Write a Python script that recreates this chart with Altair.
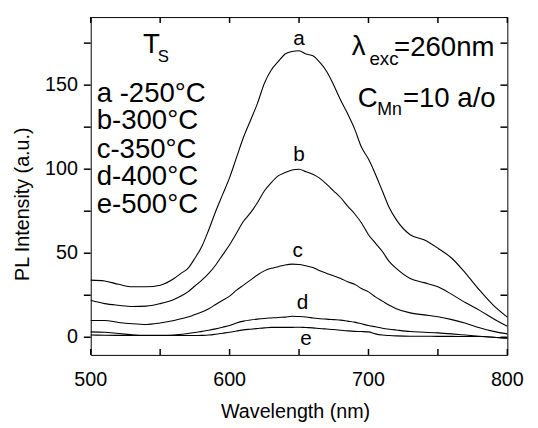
import altair as alt
import pandas as pd

FONT = "Liberation Sans"

# ---- data ----
wavelength = [500, 510, 520, 530, 540, 550, 560,
              565, 570, 575, 580, 585, 590, 595, 600, 605, 610, 615, 620, 625, 630, 635,
              640, 645, 650, 655, 660, 665, 670, 675, 680, 685, 690, 695, 700, 705, 710,
              715, 720,
              730, 740, 750, 760, 770, 780, 790, 800]

curve_a = [34, 33.5, 31.5, 30, 30, 31, 35,
           38, 41, 47, 54, 64, 75, 85, 95, 107, 119, 129, 139, 151, 159, 164,
           168.5, 170, 170.5, 168.5, 167.5, 163.5, 158, 150, 141, 133, 124, 113, 106, 97, 87,
           77, 70,
           61, 58, 53, 47, 38, 28, 19, 12]
curve_b = [22, 20, 19, 18.3, 18.5, 20, 22.5,
           24.5, 27, 30.5, 34, 38, 43, 49, 55, 62, 69, 74, 80, 87, 92, 96,
           98, 99.5, 100, 98.5, 97, 94.5, 91, 87, 83, 78, 73.5, 68, 61, 56, 51,
           45, 41,
           35, 32.5, 30, 25.5, 20.5, 16, 11, 6.5]
curve_c = [10, 10, 8.8, 8, 7.6, 8.5, 10,
           11, 12, 13.5, 15, 17, 19.5, 22, 24.5, 28, 31, 34, 37, 39.5, 41, 42,
           43, 43.5, 43.3, 42.5, 41.5, 39.5, 38, 36.5, 35, 33, 31.5, 29, 27, 24, 21.5,
           19, 17,
           14.5, 13.3, 12.2, 10.5, 8.3, 5.6, 3.5, 2]
curve_d = [3.2, 3, 2.2, 1.5, 1.2, 1.2, 1.3,
           1.8, 2.2, 2.8, 3.5, 4.2, 5, 6, 7, 8.5, 9.6, 10.3, 10.8, 11.2, 11.5, 11.8,
           12, 12.5, 12.3, 12, 11.5, 11, 10.8, 10.5, 10.2, 9.6, 9, 8, 7, 6.2, 5.4,
           4.8, 4.3,
           3.4, 3, 2.6, 2, 1.3, 0.6, 0, -0.6]
curve_e = [1.3, 1.2, 1.1, 1, 1, 1, 1,
           1, 1, 1, 1.1, 1.3, 1.8, 2.4, 3, 3.7, 4.4, 4.8, 5.2, 5.6, 5.9, 5.9,
           5.9, 5.9, 6, 5.8, 5.6, 5.2, 4.9, 4.6, 4.2, 3.8, 3.5, 3.4, 3.2, 2, 1.3,
           1, 0.8,
           0.6, 0.6, 0.5, 0.5, 0.4, 0.4, 0, -0.6]

curve_names = ["a", "b", "c", "d", "e"]
label_wl = [650, 650, 649, 652.5, 655]
label_val = [174, 105, 47.5, 17, -4.7]

legend_lines = ["a -250°C", "b-300°C", "c-350°C", "d-400°C", "e-500°C"]

x_ticks = [500, 550, 600, 650, 700, 750, 800]
y_ticks = [0, 25, 50, 75, 100, 125, 150, 175]
x_tick_labels = [500, 600, 700, 800]
y_tick_labels = [0, 50, 100, 150]

# ---- layout ----
W, H = 423, 343
X_DOM = [500, 800]
Y_DOM = [-10.5, 190.5]
TICK_X_PX, TICK_Y_PX = 6, 7

# ---- tables ----
series = [curve_a, curve_b, curve_c, curve_d, curve_e]
for s in series:
    assert len(s) == len(wavelength)
rows = []
for name, vals in zip(curve_names, series):
    for w, v in zip(wavelength, vals):
        rows.append({"wl": w, "val": v, "curve": name})
df = pd.DataFrame(rows)
lab_df = pd.DataFrame({"wl": label_wl, "val": label_val, "label": curve_names})
xt_df = pd.DataFrame({"wl": x_ticks})
yt_df = pd.DataFrame({"val": y_ticks})
xl_df = pd.DataFrame({"wl": x_tick_labels, "t": [str(v) for v in x_tick_labels]})
yl_df = pd.DataFrame({"val": y_tick_labels, "t": [str(v) for v in y_tick_labels]})

xscale = alt.Scale(domain=X_DOM, nice=False, zero=False)
yscale = alt.Scale(domain=Y_DOM, nice=False, zero=False)

lines = alt.Chart(df).mark_line(color="black", strokeWidth=1.1, interpolate="monotone").encode(
    x=alt.X("wl:Q", scale=xscale, axis=None),
    y=alt.Y("val:Q", scale=yscale, axis=None),
    detail="curve:N")

XF = alt.X("wl:Q", axis=None)
YF = alt.Y("val:Q", axis=None)

labels = alt.Chart(lab_df).mark_text(fontSize=21, baseline="alphabetic", align="center",
                                     font=FONT, color="black").encode(
    x=XF, y=YF, text="label:N")

# tick marks as rules (bottom/top/right inward, left outward)
tick_bottom = alt.Chart(xt_df).mark_rule(color="#000000", strokeWidth=1.5, opacity=1).encode(
    x=XF, y=alt.value(H), y2=alt.value(H - TICK_X_PX))
tick_top = alt.Chart(xt_df).mark_rule(color="#000000", strokeWidth=1.5, opacity=1).encode(
    x=XF, y=alt.value(0), y2=alt.value(TICK_X_PX))
tick_left = alt.Chart(yt_df).mark_rule(color="#000000", strokeWidth=1.5, opacity=1).encode(
    y=YF, x=alt.value(-TICK_Y_PX), x2=alt.value(0))
tick_right = alt.Chart(yt_df).mark_rule(color="#000000", strokeWidth=1.5, opacity=1).encode(
    y=YF, x=alt.value(W - TICK_Y_PX), x2=alt.value(W))

# tick labels
xlab = alt.Chart(xl_df).mark_text(fontSize=20, font=FONT, color="black", align="center",
                                  baseline="top").encode(
    x=XF, y=alt.value(H + 16), text="t:N")
ylab = alt.Chart(yl_df).mark_text(fontSize=20, font=FONT, color="black", align="right",
                                  baseline="middle").encode(
    y=YF, x=alt.value(-13), text="t:N")


def note(txt, x, y, size, align="left", baseline="alphabetic", angle=0):
    return alt.Chart(pd.DataFrame({"t": [txt]})).mark_text(
        align=align, baseline=baseline, fontSize=size, font=FONT, color="black", angle=angle
    ).encode(x=alt.value(x), y=alt.value(y), text="t:N")


notes = [
    note("Wavelength (nm)", 208, H + 64, 20, align="center"),
    note("PL  Intensity (a.u.)", -69, 190, 20, align="center", baseline="middle", angle=270),
    note("T", 53, 36, 28),
    note("S", 68, 46, 17),
    note("λ", 265, 39, 28),
    note("exc", 283, 49, 19),
    note("=260nm", 308, 40, 28),
    note("C", 271, 91, 28),
    note("Mn", 291, 99, 18),
    note("=10 a/o", 317, 91, 28),
]
legend_y = [86, 114, 143, 171, 199]
for txt, yy in zip(legend_lines, legend_y):
    notes.append(note(txt, 6, yy, 28))

chart = alt.layer(lines, labels, xlab, ylab, *notes,
                  tick_bottom, tick_top, tick_left, tick_right).properties(
    width=W, height=H,
    autosize=alt.AutoSizeParams(type="none"),
    padding={"left": 84, "top": 6, "right": 23, "bottom": 71},
    background="white",
).configure_view(
    stroke="black", strokeWidth=1
)

chart.save("out.html", embed_options={"renderer": "svg", "actions": False})
